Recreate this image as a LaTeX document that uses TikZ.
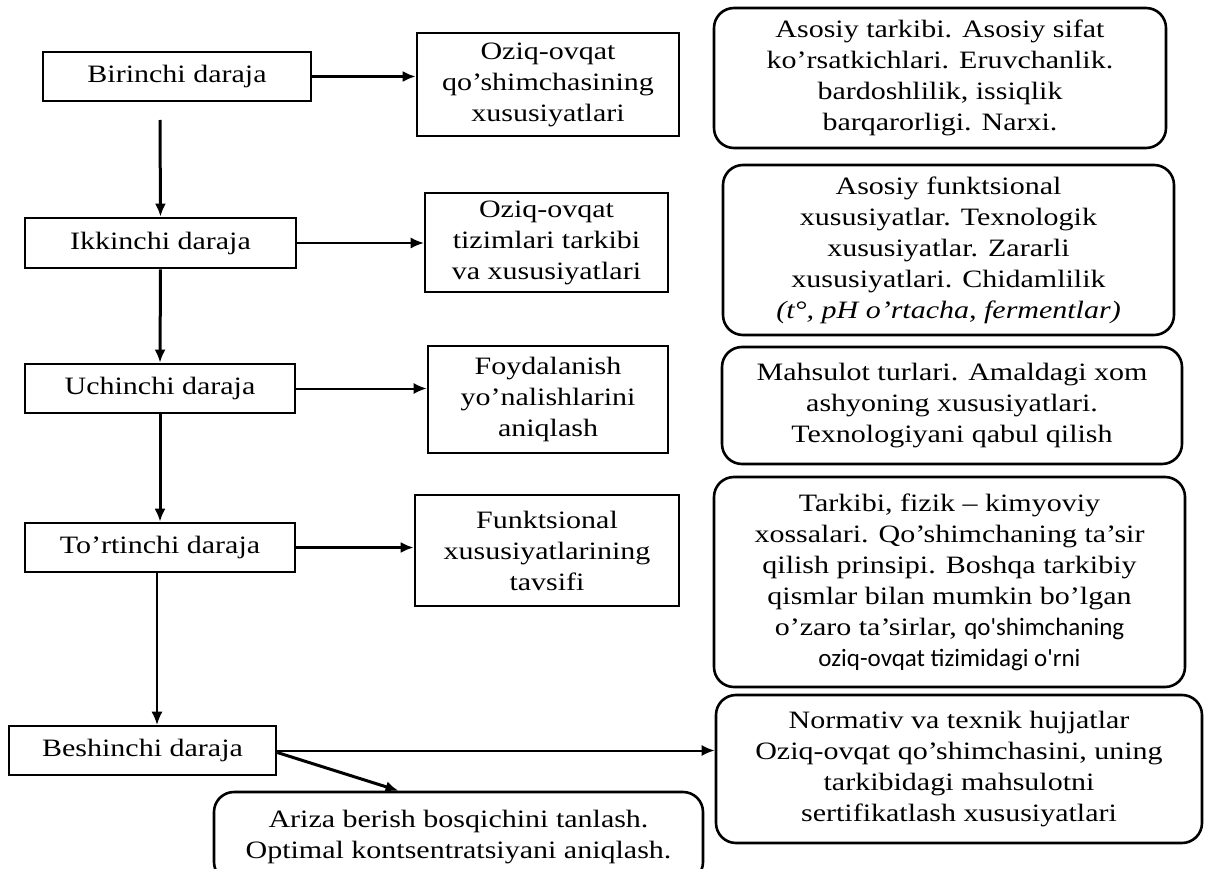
\documentclass[tikz,border=0pt]{standalone}
\usepackage{fontspec}
\setmainfont{Liberation Serif}[FakeStretch=1.2]
\newfontfamily\sansf{Carlito}
\usetikzlibrary{arrows.meta}
\begin{document}
\begin{tikzpicture}[x=1pt,y=-1pt,
  every node/.style={font=\fontsize{25}{31}\selectfont, align=center, inner sep=0pt},
  lvl/.style={draw, line width=2.6pt, rectangle},
  mid/.style={draw, line width=2.6pt, rectangle},
  rbox/.style={draw, line width=2.6pt, rectangle, rounded corners=20pt},
  tarr/.style={line width=3pt, -{Latex[length=13pt,width=11pt]}},
  marr/.style={line width=2pt, -{Latex[length=13pt,width=11pt]}},
  sarr/.style={line width=1.4pt, -{Latex[length=13pt,width=11pt]}}]
\useasboundingbox (0,0) rectangle (1205,869);
% left column
\node[lvl, minimum width=268pt, minimum height=49pt] (b1) at (177,76.5) {Birinchi daraja};
\node[lvl, minimum width=271pt, minimum height=50pt] (b2) at (160.5,243) {Ikkinchi daraja};
\node[lvl, minimum width=270pt, minimum height=49pt] (b3) at (160,388.5) {Uchinchi daraja};
\node[lvl, minimum width=270pt, minimum height=49pt] (b4) at (160,547.5) {To’rtinchi daraja};
\node[lvl, minimum width=267pt, minimum height=49pt] (b5) at (142.5,750.5) {Beshinchi daraja};
% middle column
\node[mid, minimum width=262pt, minimum height=103pt] (m1) at (548,84.5) {Oziq-ovqat\\qo'shimchasining\\xususiyatlari};
\node[mid, minimum width=243pt, minimum height=99pt] (m2) at (546.5,242.5) {Oziq-ovqat\\tizimlari tarkibi\\va xususiyatlari};
\node[mid, minimum width=240pt, minimum height=107pt] (m3) at (548,399.5) {Foydalanish\\yo'nalishlarini\\aniqlash};
\node[mid, minimum width=264pt, minimum height=111pt] (m4) at (547,550.5) {Funktsional\\xususiyatlarining\\tavsifi};
% right column
\node[rbox, minimum width=452pt, minimum height=140pt] (r1) at (940,78) {Asosiy tarkibi. Asosiy sifat\\ko'rsatkichlari. Eruvchanlik.\\bardoshlilik, issiqlik\\barqarorligi. Narxi.};
\node[rbox, minimum width=451pt, minimum height=170pt] (r2) at (948.5,250) {Asosiy funktsional\\xususiyatlar. Texnologik\\xususiyatlar. Zararli\\xususiyatlari. Chidamlilik\\\textit{(t°, pH o'rtacha, fermentlar)}};
\node[rbox, minimum width=460pt, minimum height=117pt] (r3) at (952,405.5) {Mahsulot turlari. Amaldagi xom\\ashyoning xususiyatlari.\\Texnologiyani qabul qilish};
\node[rbox, minimum width=471pt, minimum height=210pt] (r4) at (949.5,582) {Tarkibi, fizik – kimyoviy\\xossalari. Qo'shimchaning ta'sir\\qilish prinsipi. Boshqa tarkibiy\\qismlar bilan mumkin bo'lgan\\o'zaro ta'sirlar, {\sansf qo'shimchaning}\\{\sansf oziq-ovqat tizimidagi o'rni}};
\node[rbox, minimum width=486pt, minimum height=148pt] (r5) at (959,769) {Normativ va texnik hujjatlar\\Oziq-ovqat qo'shimchasini, uning\\tarkibidagi mahsulotni\\sertifikatlash xususiyatlari};
\node[rbox, minimum width=489pt, minimum height=90pt] (b6) at (458.5,837) {Ariza berish bosqichini tanlash.\\Optimal kontsentratsiyani aniqlash.};
% connectors
\coordinate (s12) at (160,120);
\draw[tarr] (s12) -- (b2.north);
\draw[tarr] (b2.south) -- (b3.north);
\draw[tarr] (b3.south) -- (b4.north);
\draw[sarr] ([xshift=-3pt]b4.south) -- ([xshift=-3pt]b4.south |- b5.north);
\draw[tarr] (b1.east) -- (m1.west |- b1.east);
\draw[sarr] (b2.east) -- (m2.west |- b2.east);
\draw[marr] (b3.east) -- (m3.west |- b3.east);
\draw[tarr] (b4.east) -- (m4.west |- b4.east);
\draw[marr] (b5.east) -- (r5.west |- b5.east);
\draw[tarr] ([yshift=-2pt]b5.east) -- ([xshift=-60pt]b6.north);
\end{tikzpicture}
\end{document}
